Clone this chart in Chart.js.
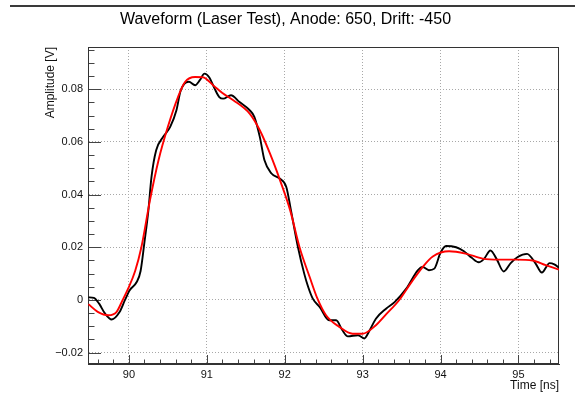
<!DOCTYPE html>
<html><head><meta charset="utf-8">
<script src="https://cdn.jsdelivr.net/npm/chart.js@4.4.1/dist/chart.umd.min.js"></script>
<style>html,body{margin:0;padding:0;background:#fff}</style>
</head><body>
<canvas id="c" width="575" height="404"></canvas>
<script>
const titleText = 'Waveform (Laser Test), Anode: 650, Drift: -450';
const xTitle = 'Time [ns]';
const yTitle = 'Amplitude [V]';
const xTicks = [90, 91, 92, 93, 94, 95];
const xTickLabels = ['90', '91', '92', '93', '94', '95'];
const yTicks = [-0.02, 0, 0.02, 0.04, 0.06, 0.08];
const yTickLabels = ['\u22120.02', '0', '0.02', '0.04', '0.06', '0.08'];

const waveTime = [89.48, 89.55, 89.62, 89.69, 89.78, 89.88, 89.95, 90.01, 90.10, 90.15, 90.20, 90.25, 90.29, 90.35, 90.44, 90.53, 90.61, 90.66, 90.71, 90.77, 90.85, 90.91, 90.97, 91.03, 91.10, 91.16, 91.21, 91.31, 91.42, 91.55, 91.61, 91.68, 91.74, 91.83, 91.94, 92.02, 92.08, 92.17, 92.25, 92.30, 92.36, 92.45, 92.57, 92.66, 92.74, 92.81, 92.94, 93.02, 93.09, 93.17, 93.30, 93.41, 93.56, 93.71, 93.77, 93.85, 93.92, 94.00, 94.07, 94.20, 94.30, 94.40, 94.49, 94.56, 94.64, 94.72, 94.81, 94.90, 94.99, 95.11, 95.22, 95.30, 95.40, 95.46, 95.52];
const waveAmp = [0.0010, 0.0008, -0.0015, -0.0050, -0.0074, -0.0046, 0.0000, 0.0037, 0.0068, 0.0110, 0.0220, 0.0340, 0.0467, 0.0568, 0.0619, 0.0657, 0.0720, 0.0790, 0.0820, 0.0828, 0.0815, 0.0834, 0.0859, 0.0845, 0.0802, 0.0770, 0.0764, 0.0777, 0.0751, 0.0720, 0.0695, 0.0619, 0.0530, 0.0480, 0.0460, 0.0429, 0.0340, 0.0200, 0.0100, 0.0050, 0.0005, -0.0027, -0.0077, -0.0077, -0.0115, -0.0138, -0.0134, -0.0146, -0.0115, -0.0071, -0.0033, -0.0008, 0.0043, 0.0113, 0.0125, 0.0113, 0.0119, 0.0180, 0.0205, 0.0200, 0.0185, 0.0160, 0.0143, 0.0157, 0.0188, 0.0155, 0.0108, 0.0140, 0.0163, 0.0175, 0.0138, 0.0104, 0.0140, 0.0135, 0.0122];

const fitTime = [89.48, 89.60, 89.74, 89.84, 89.92, 89.99, 90.08, 90.16, 90.27, 90.38, 90.50, 90.63, 90.72, 90.85, 90.95, 91.08, 91.20, 91.34, 91.55, 91.68, 91.81, 91.94, 92.07, 92.19, 92.32, 92.42, 92.53, 92.70, 92.87, 93.00, 93.17, 93.30, 93.47, 93.62, 93.77, 93.90, 94.11, 94.32, 94.54, 94.75, 94.97, 95.18, 95.35, 95.52];
const fitAmp = [-0.0016, -0.0045, -0.0058, -0.0046, 0.0000, 0.0043, 0.0110, 0.0200, 0.0378, 0.0530, 0.0657, 0.0770, 0.0827, 0.0846, 0.0845, 0.0815, 0.0785, 0.0758, 0.0707, 0.0644, 0.0556, 0.0454, 0.0340, 0.0200, 0.0087, 0.0005, -0.0058, -0.0102, -0.0128, -0.0128, -0.0096, -0.0055, 0.0000, 0.0065, 0.0125, 0.0165, 0.0185, 0.0176, 0.0157, 0.0153, 0.0153, 0.0150, 0.0132, 0.0115];

const FONT = 'Liberation Sans, Arial, Helvetica, sans-serif';

const decor = {
  id: 'decor',
  beforeDraw(chart) {
    const ctx = chart.ctx;
    ctx.save();
    ctx.fillStyle = '#fff';
    ctx.fillRect(0, 0, chart.width, chart.height);
    ctx.fillStyle = '#3a3a3a';
    ctx.fillRect(10, 5, chart.width - 10, 2);
    ctx.restore();
  },
  beforeDatasetsDraw(chart) {
    const {ctx, chartArea: a, scales: {x, y}} = chart;
    ctx.save();
    ctx.strokeStyle = '#444';
    ctx.lineWidth = 1;
    ctx.beginPath();
    const xStep = (xTicks[1] - xTicks[0]) / 5;
    for (let k = -5; k <= xTicks.length * 5; k++) {
      const v = xTicks[0] + k * xStep;
      if (v < x.min || v > x.max) continue;
      const px = Math.round(x.getPixelForValue(v)) + 0.5;
      const len = (k % 5 === 0) ? 9 : 4.5;
      ctx.moveTo(px, a.bottom);
      ctx.lineTo(px, a.bottom - len);
    }
    const yStep = (yTicks[1] - yTicks[0]) / 4;
    for (let k = -4; k <= yTicks.length * 4; k++) {
      const v = yTicks[0] + k * yStep;
      if (v < y.min || v > y.max) continue;
      const py = Math.round(y.getPixelForValue(v)) + 0.5;
      const len = (k % 4 === 0) ? 13 : 6.5;
      ctx.moveTo(a.left, py);
      ctx.lineTo(a.left + len, py);
    }
    ctx.stroke();
    ctx.strokeStyle = '#333';
    ctx.strokeRect(Math.round(a.left) + 0.5, Math.round(a.top) + 0.5, Math.round(a.width) - 1, Math.round(a.height) - 1);
    ctx.restore();
  }
};

new Chart(document.getElementById('c'), {
  type: 'line',
  data: {
    datasets: [
      {
        label: 'Fit',
        data: fitTime.map((t, i) => ({x: t, y: fitAmp[i]})),
        borderColor: '#ff0000',
        borderWidth: 1.9,
        pointRadius: 0,
        cubicInterpolationMode: 'monotone',
        fill: false
      },
      {
        label: 'Waveform',
        data: waveTime.map((t, i) => ({x: t, y: waveAmp[i]})),
        borderColor: '#000000',
        borderWidth: 1.9,
        pointRadius: 0,
        cubicInterpolationMode: 'monotone',
        fill: false
      }
    ]
  },
  options: {
    responsive: false,
    devicePixelRatio: 1,
    animation: false,
    layout: {padding: {left: 12, right: 16, top: 0, bottom: 0}},
    plugins: {
      legend: {display: false},
      tooltip: {enabled: false},
      title: {
        display: true,
        text: titleText,
        color: '#000',
        font: {family: FONT, size: 16, weight: 'normal'},
        padding: {top: 10, bottom: 17.8}
      }
    },
    scales: {
      x: {
        type: 'linear',
        min: 89.475,
        max: 95.52,
        afterBuildTicks: s => { s.ticks = xTicks.map(v => ({value: v})); },
        afterFit: s => { s.height = 40; },
        ticks: {
          callback: (v, i) => xTickLabels[i],
          color: '#111',
          font: {family: FONT, size: 11},
          padding: 4,
          maxRotation: 0,
          autoSkip: false
        },
        grid: {color: '#a8a8a8', lineWidth: 1, drawTicks: false},
        border: {display: true, color: '#333', width: 1, dash: [1, 2]},
        title: {
          display: true, text: xTitle, align: 'end', color: '#111',
          font: {family: FONT, size: 12}, padding: {top: 0, bottom: 11}
        }
      },
      y: {
        type: 'linear',
        min: -0.0243,
        max: 0.096,
        afterBuildTicks: s => { s.ticks = yTicks.map(v => ({value: v})); },
        afterFit: s => { s.width = 76; },
        ticks: {
          callback: (v, i) => yTickLabels[i],
          color: '#111',
          font: {family: FONT, size: 11},
          padding: 5
        },
        grid: {color: '#a8a8a8', lineWidth: 1, drawTicks: false},
        border: {display: true, color: '#333', width: 1, dash: [1, 2]},
        title: {
          display: true, text: yTitle, align: 'end', color: '#111',
          font: {family: FONT, size: 12}, padding: {top: 31, bottom: 0}
        }
      }
    }
  },
  plugins: [decor]
});
</script>
</body></html>
